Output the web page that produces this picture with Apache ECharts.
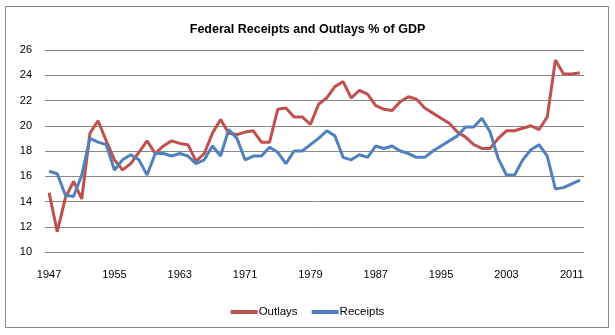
<!DOCTYPE html>
<html>
<head>
<meta charset="utf-8">
<script src="https://cdn.jsdelivr.net/npm/echarts@6/dist/echarts.min.js"></script>
<style>html,body{margin:0;padding:0;background:#fff}#c{width:615px;height:335px}</style>
</head>
<body>
<div id="c"></div>
<script>
const years = [];
for (let y = 1947; y <= 2012; y++) years.push(String(y));
const outlays = [14.7,11.6,14.3,15.6,14.2,19.4,20.4,18.8,17.3,16.5,17.0,17.9,18.8,17.8,18.4,18.8,18.6,18.5,17.2,17.8,19.4,20.5,19.4,19.3,19.5,19.6,18.7,18.7,21.3,21.4,20.7,20.7,20.1,21.7,22.2,23.1,23.5,22.2,22.8,22.5,21.6,21.3,21.2,21.9,22.3,22.1,21.4,21.0,20.6,20.2,19.5,19.1,18.5,18.2,18.2,19.0,19.6,19.6,19.8,20.0,19.7,20.7,25.2,24.1,24.1,24.2];
const receipts = [16.4,16.2,14.5,14.4,16.1,19.0,18.7,18.5,16.5,17.3,17.7,17.3,16.1,17.8,17.8,17.6,17.8,17.6,17.0,17.3,18.4,17.6,19.7,19.0,17.3,17.6,17.6,18.3,17.9,17.0,18.0,18.0,18.5,19.0,19.6,19.2,17.5,17.3,17.7,17.5,18.4,18.2,18.4,18.0,17.8,17.5,17.5,18.0,18.4,18.8,19.2,19.9,19.9,20.6,19.5,17.4,16.1,16.1,17.3,18.1,18.5,17.6,15.0,15.1,15.4,15.7];
const yTicks = {min: 10, max: 26, step: 2};

const chart = echarts.init(document.getElementById('c'), null, {renderer: 'canvas'});
const font = 'Liberation Sans';
chart.setOption({
  animation: false,
  backgroundColor: '#fff',
  title: {
    text: 'Federal Receipts and Outlays % of GDP',
    left: 'center', top: 18,
    textStyle: {fontFamily: font, fontSize: 12.5, fontWeight: 'bold', color: '#000'}
  },
  graphic: [{
    type: 'rect', shape: {x: 5.5, y: 6.5, width: 603, height: 321},
    style: {fill: 'none', stroke: '#888', lineWidth: 1}, silent: true, z: -1
  }],
  grid: {left: 45, right: 31, top: 50, bottom: 83},
  legend: {
    data: ['Outlays', 'Receipts'],
    top: 301, left: 'center',
    icon: 'rect', itemWidth: 27, itemHeight: 4, itemGap: 14,
    textStyle: {fontFamily: font, fontSize: 11.5, color: '#000', padding: [0, 0, 0, -4]}
  },
  xAxis: {
    type: 'category', data: years, boundaryGap: true,
    axisLine: {show: false}, axisTick: {show: false},
    axisLabel: {interval: 7, fontFamily: font, fontSize: 11, color: '#000', margin: 17},
    splitLine: {show: false}
  },
  yAxis: {
    type: 'value', min: yTicks.min, max: yTicks.max, interval: yTicks.step,
    axisLine: {show: false}, axisTick: {show: false},
    axisLabel: {fontFamily: font, fontSize: 11, color: '#000', margin: 13},
    splitLine: {lineStyle: {color: '#888', width: 1}}
  },
  series: [
    {name: 'Outlays', type: 'line', data: outlays, showSymbol: false, symbol: 'none',
     lineStyle: {color: '#C0504D', width: 3}, itemStyle: {color: '#C0504D'}},
    {name: 'Receipts', type: 'line', data: receipts, showSymbol: false, symbol: 'none',
     lineStyle: {color: '#4F81BD', width: 3}, itemStyle: {color: '#4F81BD'}}
  ]
});
</script>
</body>
</html>
